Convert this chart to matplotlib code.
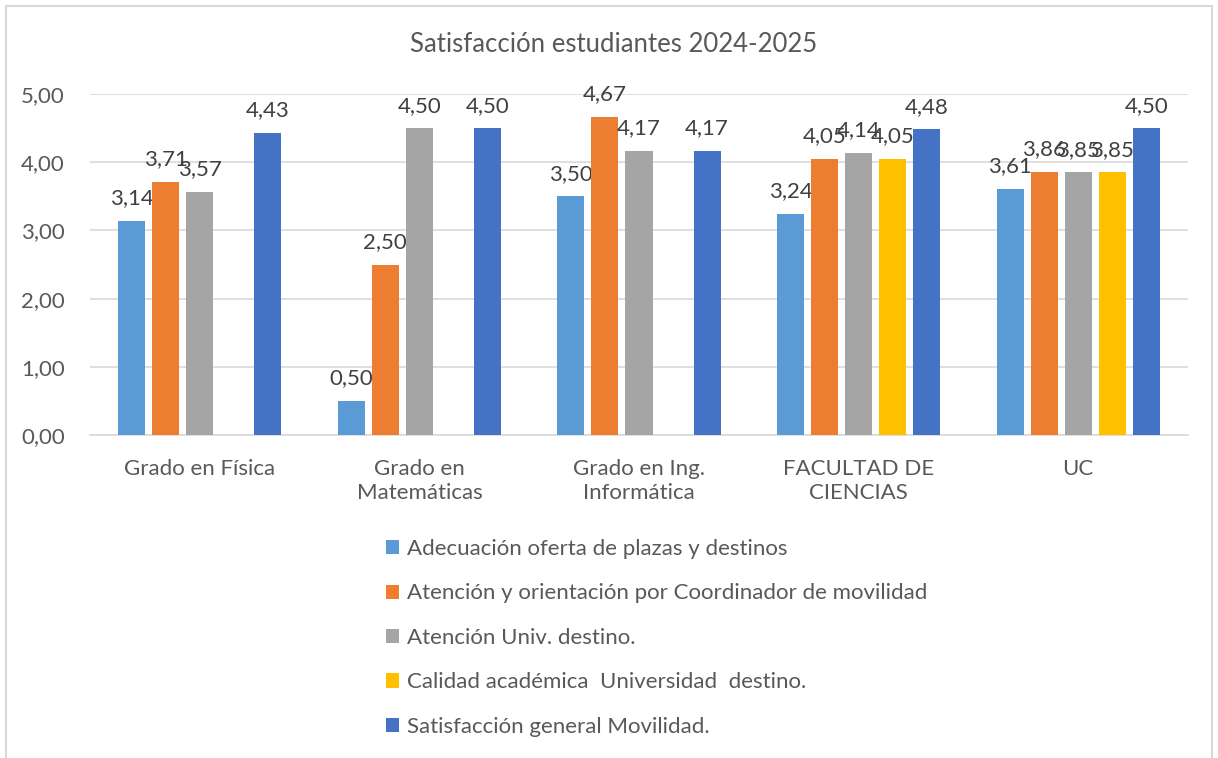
import numpy as np
import matplotlib
matplotlib.use("Agg")
from matplotlib import pyplot as plt
from matplotlib.patches import Rectangle

plt.rcParams['font.family'] = ['Lato', 'DejaVu Sans']

groups = ["Grado en Física", "Grado en\nMatemáticas", "Grado en Ing.\nInformática",
          "FACULTAD DE\nCIENCIAS", "UC"]
series_names = ["Adecuación oferta de plazas y destinos",
                "Atención y orientación por Coordinador de movilidad",
                "Atención Univ. destino.",
                "Calidad académica  Universidad  destino.",
                "Satisfacción general Movilidad."]
adecuacion = [3.14, 0.50, 3.50, 3.24, 3.61]
atencion_coord = [3.71, 2.50, 4.67, 4.05, 3.86]
atencion_univ = [3.57, 4.50, 4.17, 4.14, 3.85]
calidad = [np.nan, np.nan, np.nan, 4.05, 3.85]
satisfaccion = [4.43, 4.50, 4.17, 4.48, 4.50]
colors = ["#5B9BD5", "#ED7D31", "#A5A5A5", "#FFC000", "#4472C4"]

series = [adecuacion, atencion_coord, atencion_univ, calidad, satisfaccion]
txt = "#595959"

fig = plt.figure(figsize=(12.18, 7.58), dpi=100)
ax = fig.add_axes([90/1218, 1-435/758, 1098/1218, (435-94)/758])

x = np.arange(len(groups))
step = 0.155
width = 0.123
for i, (vals, name, c) in enumerate(zip(series, series_names, colors)):
    pos = x + (i - 2) * step
    bars = ax.bar(pos, vals, width, color=c, label=name, zorder=3)
    for p, v in zip(pos, vals):
        if np.isnan(v):
            continue
        ax.annotate(f"{v:.2f}".replace(".", ","), (p, v), xytext=(0, 9),
                    textcoords="offset points", ha="center", va="bottom",
                    fontsize=16, color="#404040")

ax.set_xlim(-0.5, 4.5)
ax.set_ylim(0, 5)
ax.set_yticks(np.arange(0, 5.01, 1))
ax.set_yticklabels([f"{t:.2f}".replace(".", ",") for t in np.arange(0, 5.01, 1)])
ax.set_xticks(x)
ax.set_xticklabels(groups, linespacing=1.3)
ax.tick_params(axis="both", length=0, labelsize=16, colors=txt)
ax.tick_params(axis="y", pad=18)
ax.tick_params(axis="x", pad=17)
ax.grid(axis="y", color="#D9D9D9", linewidth=1.2, zorder=0)
for s in ["top", "right", "left"]:
    ax.spines[s].set_visible(False)
ax.spines["bottom"].set_color("#D9D9D9")
ax.spines["bottom"].set_linewidth(1.2)

fig.text(614/1218, 1-45/758, "Satisfacción estudiantes 2024-2025", ha="center",
         va="center", fontsize=18.5, color=txt)

handles, labels = ax.get_legend_handles_labels()
leg = fig.legend(handles, labels, loc="upper left",
                 bbox_to_anchor=(366/1218, 1-519/758), frameon=False,
                 fontsize=16, handlelength=0.6, handleheight=0.6,
                 handletextpad=0.35, labelspacing=1.1, labelcolor=txt)

fig.patches.append(Rectangle((6/1218, -0.01), 1206/1218, 1 - 6/758 + 0.01,
                             transform=fig.transFigure, fill=False,
                             edgecolor="#D9D9D9", linewidth=1.5))

plt.savefig("out.png", dpi=100)
